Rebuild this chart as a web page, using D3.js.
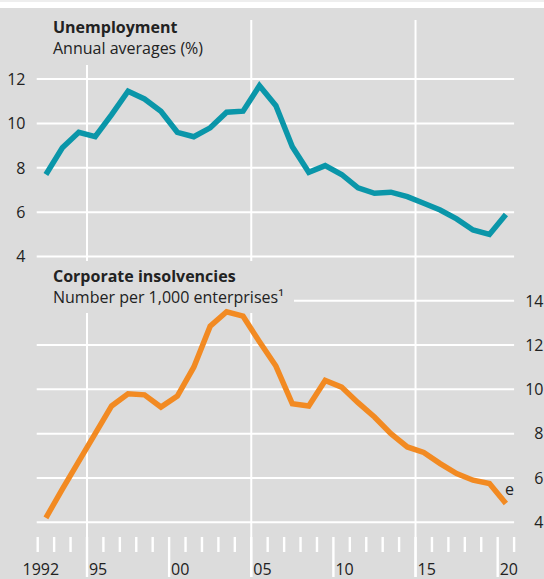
<!DOCTYPE html>
<html>
<head>
<meta charset="utf-8">
<script src="https://cdn.jsdelivr.net/npm/d3@7"></script>
<style>
  body { margin: 0; background: #fff; }
  svg text { font-family: 'Open Sans', 'Noto Sans', sans-serif; fill: #222; }
</style>
</head>
<body>
<div class="container"></div>
<script>
var years = d3.range(1992, 2021);
var unemployment = [7.7, 8.9, 9.6, 9.4, 10.4, 11.45, 11.1, 10.55, 9.6, 9.4, 9.8, 10.5, 10.55, 11.7, 10.8,
    8.95, 7.8, 8.1, 7.7, 7.1, 6.85, 6.9, 6.7, 6.4, 6.1, 5.7, 5.2, 5.0, 5.9];
var insolvencies = [4.2, 5.5, 6.75, 8.0, 9.25, 9.8, 9.75, 9.2, 9.7, 11.0, 12.85, 13.5, 13.3, 12.15, 11.05,
    9.35, 9.25, 10.4, 10.1, 9.4, 8.75, 8.0, 7.4, 7.15, 6.65, 6.2, 5.9, 5.75, 4.85];
var unempTicks = [4, 6, 8, 10, 12];
var insolTicks = [4, 6, 8, 10, 12, 14];
var majorYears = [1995, 2000, 2005, 2010, 2015, 2020];
var gridYears = [1995, 2005, 2015];
var yearLabels = ['1992', '95', '00', '05', '10', '15', '20'];

var W = 544, H = 579;
var teal = '#0a96a9', orange = '#f28a22', bg = '#dcdcdc';

var svg = d3.select('.container')
    .append('svg')
    .attr('width', W)
    .attr('height', H);

svg.append('rect').attr('x', 0).attr('y', 0).attr('width', W).attr('height', 2).style('fill', '#eeeeee');
svg.append('rect').attr('x', 0).attr('y', 8).attr('width', W).attr('height', H - 8).style('fill', bg);

var x = d3.scaleLinear().domain([1992, 2021]).range([37.7, 514.1]);
var yTop = d3.scaleLinear().domain([4, 12]).range([256.6, 79]);
var yBot = d3.scaleLinear().domain([4, 14]).range([522.3, 300.7]);

// vertical grid lines
svg.selectAll('.vgrid')
    .data(gridYears)
    .enter()
    .append('line')
    .attr('class', 'vgrid')
    .attr('x1', d => x(d)).attr('x2', d => x(d))
    .attr('y1', 20).attr('y2', H - 2)
    .style('stroke', '#fff').style('stroke-width', 2);

// title boxes hide the grid under the text
svg.append('rect').attr('x', 46).attr('y', 8).attr('width', 170).attr('height', 57).style('fill', bg);
svg.append('rect').attr('x', 46).attr('y', 261).attr('width', 246).attr('height', 52).style('fill', bg);

svg.selectAll('.gtop')
    .data(unempTicks)
    .enter()
    .append('line')
    .attr('x1', x(1992) - 1).attr('x2', x(2021))
    .attr('y1', d => yTop(d)).attr('y2', d => yTop(d))
    .style('stroke', '#fff').style('stroke-width', 2);

svg.selectAll('.gbot')
    .data(insolTicks)
    .enter()
    .append('line')
    .attr('x1', d => d == 14 ? 294 : x(1992) - 1).attr('x2', x(2021))
    .attr('y1', d => yBot(d)).attr('y2', d => yBot(d))
    .style('stroke', '#fff').style('stroke-width', 2);

// year ticks
svg.selectAll('.tick')
    .data(d3.range(1992, 2022))
    .enter()
    .append('line')
    .attr('x1', d => x(d)).attr('x2', d => x(d))
    .attr('y1', 537)
    .attr('y2', d => majorYears.indexOf(d) >= 0 ? H - 2 : 552)
    .style('stroke', '#fff').style('stroke-width', 2.4);

svg.selectAll('.ylab')
    .data(yearLabels)
    .enter()
    .append('text')
    .attr('x', (d, i) => i == 0 ? 22.5 : x(majorYears[i - 1]) + 2)
    .attr('y', 575)
    .style('font-size', '16px')
    .text(d => d);

svg.selectAll('.ltop')
    .data(unempTicks)
    .enter()
    .append('text')
    .attr('x', 25.5)
    .attr('y', d => yTop(d) + 5.8)
    .attr('text-anchor', 'end')
    .style('font-size', '16px')
    .text(d => d);

svg.selectAll('.lbot')
    .data(insolTicks)
    .enter()
    .append('text')
    .attr('x', 543.5)
    .attr('y', d => yBot(d) + 5.8)
    .attr('text-anchor', 'end')
    .style('font-size', '16px')
    .text(d => d);

var lineTop = d3.line()
    .x((d, i) => x(years[i] + 0.5))
    .y(d => yTop(d));
var lineBot = d3.line()
    .x((d, i) => x(years[i] + 0.5))
    .y(d => yBot(d));

svg.append('path')
    .attr('d', lineTop(unemployment))
    .style('fill', 'none').style('stroke', teal)
    .style('stroke-width', 5.5).style('stroke-linejoin', 'miter');

svg.append('path')
    .attr('d', lineBot(insolvencies))
    .style('fill', 'none').style('stroke', orange)
    .style('stroke-width', 5.5).style('stroke-linejoin', 'miter');

svg.append('text')
    .attr('x', x(2020.5) - 1)
    .attr('y', yBot(insolvencies[insolvencies.length - 1]) - 8)
    .style('font-size', '16px')
    .text('e');

// titles
svg.append('text').attr('x', 53).attr('y', 33).style('font-size', '16px').style('font-weight', 'bold').text('Unemployment');
svg.append('text').attr('x', 53).attr('y', 53.5).style('font-size', '16px').text('Annual averages (%)');
svg.append('text').attr('x', 53).attr('y', 282).style('font-size', '16px').style('font-weight', 'bold').text('Corporate insolvencies');
svg.append('text').attr('x', 53).attr('y', 302.5).style('font-size', '16px').text('Number per 1,000 enterprises¹');
</script>
</body>
</html>
